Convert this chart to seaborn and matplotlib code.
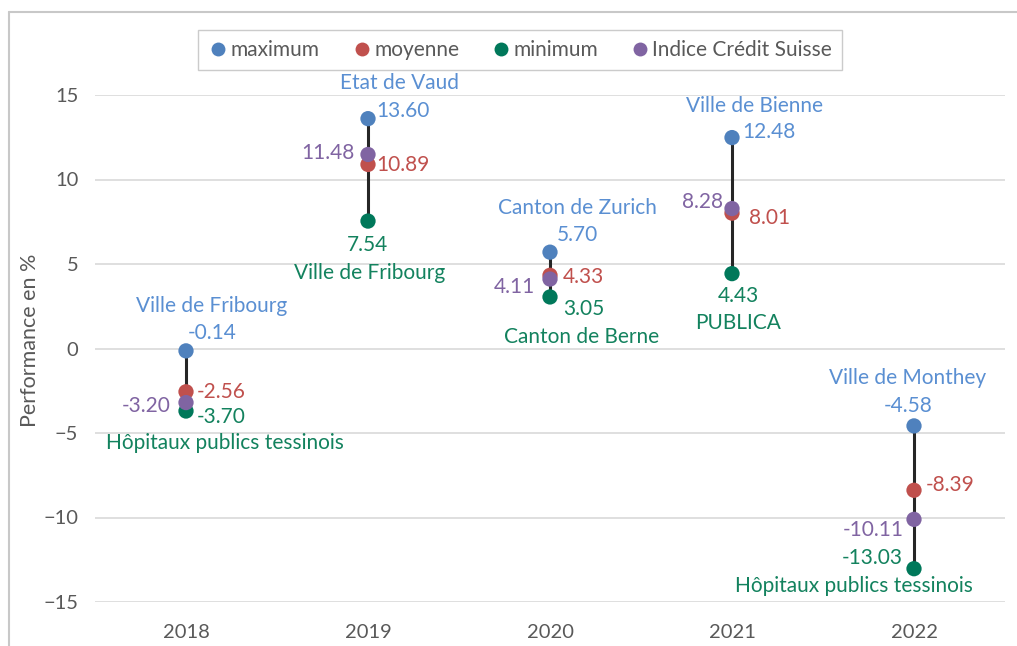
import numpy as np
import pandas as pd
import matplotlib
matplotlib.use('Agg')
import matplotlib.pyplot as plt
import seaborn as sns
from matplotlib.lines import Line2D

# ── données ──
years = ["2018", "2019", "2020", "2021", "2022"]
maximum = [-0.14, 13.60, 5.70, 12.48, -4.58]
moyenne = [-2.56, 10.89, 4.33, 8.01, -8.39]
minimum = [-3.70, 7.54, 3.05, 4.43, -13.03]
indice_cs = [-3.20, 11.48, 4.11, 8.28, -10.11]
max_names = ["Ville de Fribourg", "Etat de Vaud", "Canton de Zurich", "Ville de Bienne", "Ville de Monthey"]
min_names = ["Hôpitaux publics tessinois", "Ville de Fribourg", "Canton de Berne", "PUBLICA",
             "Hôpitaux publics tessinois"]

series = ["maximum", "moyenne", "minimum", "Indice Crédit Suisse"]
values = [maximum, moyenne, minimum, indice_cs]

marker_colors = {"maximum": "#4F81BD", "moyenne": "#C0504D",
                 "minimum": "#00785A", "Indice Crédit Suisse": "#8064A2"}
text_colors = {"maximum": "#5A8FD2", "moyenne": "#C0504D",
               "minimum": "#13825E", "Indice Crédit Suisse": "#8064A2"}

df = pd.DataFrame([{"annee": y, "serie": s, "perf": v[i]}
                   for s, v in zip(series, values) for i, y in enumerate(years)])

sns.set_theme(style="white")
plt.rcParams['font.family'] = ['Lato', 'DejaVu Sans']

fig = plt.figure(figsize=(10.17, 6.46), dpi=100)
ax = fig.add_axes([95 / 1017, 1 - 602 / 646, 910 / 1017, 507 / 646])

# barres verticales min -> max
ax.vlines(np.arange(len(years)), minimum, maximum, color="#262626", lw=2.2, zorder=2)

sns.stripplot(data=df, x="annee", y="perf", hue="serie", hue_order=series, order=years,
              palette=marker_colors, jitter=False, dodge=False, size=11, linewidth=0,
              legend=False, ax=ax, zorder=3)

ax.set_ylim(-15, 15)
ax.set_xlim(-0.5, len(years) - 0.5)
ax.set_yticks([15, 10, 5, 0, -5, -10, -15])
ax.yaxis.grid(True, color="#D9D9D9", lw=1.2)
ax.set_axisbelow(True)
for sp in ax.spines.values():
    sp.set_visible(False)
ax.tick_params(axis="both", length=0, labelsize=14.5, labelcolor="#595959")
ax.tick_params(axis="y", pad=12)
ax.tick_params(axis="x", pad=16)
ax.set_xlabel("")
ax.set_ylabel("")
fig.text(30 / 1017, 1 - 340 / 646, "Performance en %", rotation=90, ha="center", va="center",
         fontsize=15.5, color="#595959")

# étiquettes (décalages en pixels)
value_offsets = {
    "maximum": [(26, 18, "center"), (8, 8, "left"), (27, 17, "center"), (10, 6, "left"), (-6, 20, "center")],
    "moyenne": [(11, 0, "left"), (8, -1, "left"), (13, -2, "left"), (17, -5, "left"), (12, 5, "left")],
    "minimum": [(11, -6, "left"), (0, -24, "center"), (13, -12, "left"), (6, -22, "center"), (-11, 11, "right")],
    "Indice Crédit Suisse": [(-15, -3, "right"), (-13, 1, "right"), (-15, -8, "right"), (-9, 7, "right"),
                             (-10, -11, "right")],
}
max_name_offsets = [(26, 45), (31, 36), (27, 44), (22, 32), (-6, 48)]
min_name_offsets = [(39, -32), (2, -52), (32, -40), (6, -49), (-60, -17)]

fs = 15
for s, v in zip(series, values):
    for i, val in enumerate(v):
        dx, dy, ha = value_offsets[s][i]
        ax.annotate(f"{val:.2f}", xy=(i, val), xytext=(dx, dy), textcoords="offset pixels",
                    ha=ha, va="center", fontsize=fs, color=text_colors[s], annotation_clip=False)
for i in range(len(years)):
    dx, dy = max_name_offsets[i]
    ax.annotate(max_names[i], xy=(i, maximum[i]), xytext=(dx, dy), textcoords="offset pixels",
                ha="center", va="center", fontsize=fs, color=text_colors["maximum"], annotation_clip=False)
    dx, dy = min_name_offsets[i]
    ax.annotate(min_names[i], xy=(i, minimum[i]), xytext=(dx, dy), textcoords="offset pixels",
                ha="center", va="center", fontsize=fs, color=text_colors["minimum"], annotation_clip=False)

# légende
handles = [Line2D([], [], marker="o", ls="", markersize=10, markerfacecolor=marker_colors[s],
                  markeredgewidth=0, label=s) for s in series]
leg = fig.legend(handles=handles, loc="center", bbox_to_anchor=(520 / 1017, 1 - 50 / 646), ncol=4,
                 frameon=True, fancybox=False, fontsize=15, handletextpad=0.1, columnspacing=1.5,
                 borderpad=0.5, handlelength=1.0, borderaxespad=0)
leg.get_frame().set_edgecolor("#BFBFBF")
leg.get_frame().set_linewidth(1.0)
for t in leg.get_texts():
    t.set_color("#595959")

# cadre du graphique (haut et gauche visibles)
fig.add_artist(Line2D([9 / 1017, 1.0], [1 - 12 / 646] * 2, color="#C8C8C8", lw=1.5))
fig.add_artist(Line2D([9 / 1017] * 2, [0.0, 1 - 12 / 646], color="#C8C8C8", lw=1.5))

fig.savefig("out.png", dpi=100)
